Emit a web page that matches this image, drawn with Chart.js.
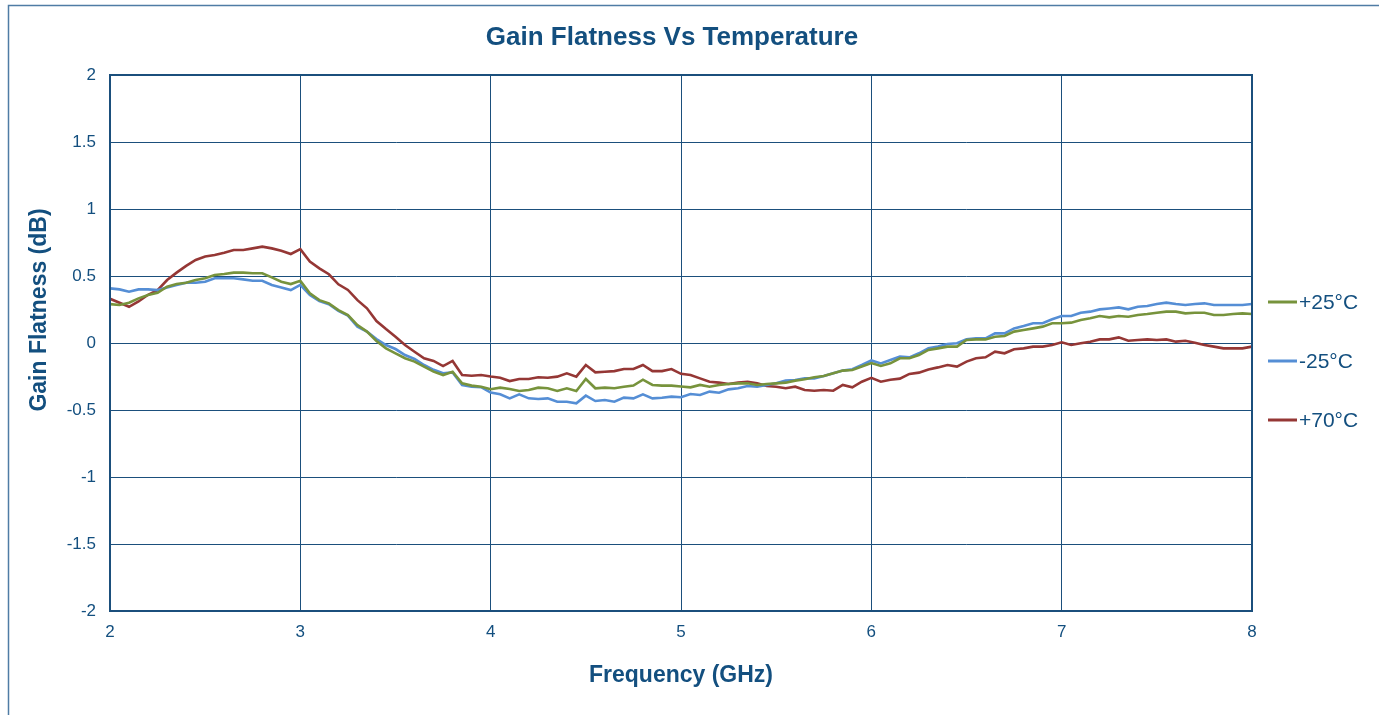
<!DOCTYPE html>
<html>
<head>
<meta charset="utf-8">
<title>Gain Flatness Vs Temperature</title>
<script src="https://cdn.jsdelivr.net/npm/chart.js@4"></script>
<style>
  html, body { margin: 0; padding: 0; background: #fff; overflow: hidden; }
  canvas { display: block; }
</style>
</head>
<body>
<canvas id="chart_gain" width="1379" height="715"></canvas>
<script>
// frequency points, GHz
const freqs = [
  2.00, 2.05, 2.10, 2.15, 2.20, 2.25, 2.30, 2.35, 2.40, 2.45, 2.50, 2.55, 2.60, 2.65, 2.70, 2.75, 2.80, 2.85, 2.90, 2.95,
  3.00, 3.05, 3.10, 3.15, 3.20, 3.25, 3.30, 3.35, 3.40, 3.45, 3.50, 3.55, 3.60, 3.65, 3.70, 3.75, 3.80, 3.85, 3.90, 3.95,
  4.00, 4.05, 4.10, 4.15, 4.20, 4.25, 4.30, 4.35, 4.40, 4.45, 4.50, 4.55, 4.60, 4.65, 4.70, 4.75, 4.80, 4.85, 4.90, 4.95,
  5.00, 5.05, 5.10, 5.15, 5.20, 5.25, 5.30, 5.35, 5.40, 5.45, 5.50, 5.55, 5.60, 5.65, 5.70, 5.75, 5.80, 5.85, 5.90, 5.95,
  6.00, 6.05, 6.10, 6.15, 6.20, 6.25, 6.30, 6.35, 6.40, 6.45, 6.50, 6.55, 6.60, 6.65, 6.70, 6.75, 6.80, 6.85, 6.90, 6.95,
  7.00, 7.05, 7.10, 7.15, 7.20, 7.25, 7.30, 7.35, 7.40, 7.45, 7.50, 7.55, 7.60, 7.65, 7.70, 7.75, 7.80, 7.85, 7.90, 7.95,
  8.00
];

// gain flatness, dB
const gainP25 = [
  0.29, 0.284, 0.30, 0.333, 0.358, 0.375, 0.42, 0.44, 0.45, 0.47, 0.483, 0.507, 0.515, 0.525, 0.525, 0.52, 0.52, 0.49, 0.457, 0.44,
  0.465, 0.371, 0.32, 0.296, 0.246, 0.209, 0.134, 0.085, 0.015, -0.04, -0.077, -0.114, -0.139, -0.177, -0.214, -0.239, -0.214, -0.301, -0.318, -0.326,
  -0.345, -0.333, -0.343, -0.358, -0.351, -0.333, -0.338, -0.358, -0.338, -0.358, -0.269, -0.338, -0.333, -0.338, -0.326, -0.318, -0.274, -0.313, -0.318, -0.318,
  -0.325, -0.331, -0.313, -0.326, -0.313, -0.306, -0.301, -0.301, -0.313, -0.306, -0.301, -0.296, -0.281, -0.271, -0.256, -0.246, -0.226, -0.206, -0.201, -0.176,
  -0.15, -0.171, -0.152, -0.114, -0.114, -0.09, -0.052, -0.04, -0.027, -0.027, 0.022, 0.027, 0.027, 0.047, 0.052, 0.085, 0.097, 0.109, 0.122, 0.147,
  0.147, 0.152, 0.172, 0.184, 0.201, 0.191, 0.201, 0.196, 0.209, 0.216, 0.226, 0.234, 0.234, 0.221, 0.226, 0.226, 0.209, 0.209, 0.216, 0.221,
  0.216
];

const gainM25 = [
  0.408, 0.40, 0.383, 0.40, 0.40, 0.395, 0.415, 0.433, 0.45, 0.45, 0.457, 0.483, 0.483, 0.483, 0.475, 0.465, 0.465, 0.433, 0.415, 0.395,
  0.433, 0.358, 0.313, 0.289, 0.239, 0.204, 0.122, 0.085, 0.03, -0.015, -0.045, -0.09, -0.119, -0.164, -0.2, -0.226, -0.22, -0.313, -0.326, -0.33,
  -0.37, -0.383, -0.413, -0.383, -0.413, -0.418, -0.413, -0.438, -0.438, -0.45, -0.393, -0.433, -0.425, -0.438, -0.408, -0.413, -0.383, -0.413, -0.408, -0.40,
  -0.405, -0.381, -0.388, -0.363, -0.371, -0.346, -0.338, -0.321, -0.326, -0.313, -0.301, -0.281, -0.276, -0.264, -0.264, -0.246, -0.226, -0.206, -0.196, -0.164,
  -0.13, -0.152, -0.127, -0.102, -0.107, -0.077, -0.04, -0.027, -0.007, -0.002, 0.027, 0.035, 0.035, 0.072, 0.072, 0.109, 0.127, 0.147, 0.147, 0.177,
  0.201, 0.201, 0.226, 0.234, 0.251, 0.258, 0.266, 0.251, 0.271, 0.276, 0.291, 0.301, 0.291, 0.284, 0.291, 0.296, 0.284, 0.284, 0.284, 0.284,
  0.291
];

const gainP70 = [
  0.33, 0.30, 0.27, 0.31, 0.36, 0.395, 0.47, 0.525, 0.575, 0.62, 0.645, 0.657, 0.674, 0.694, 0.694, 0.706, 0.719, 0.706, 0.689, 0.664,
  0.70, 0.607, 0.557, 0.513, 0.438, 0.396, 0.32, 0.259, 0.164, 0.104, 0.047, -0.015, -0.065, -0.114, -0.134, -0.172, -0.134, -0.239, -0.244, -0.239,
  -0.25, -0.259, -0.284, -0.269, -0.269, -0.256, -0.259, -0.251, -0.226, -0.251, -0.164, -0.219, -0.214, -0.21, -0.194, -0.194, -0.164, -0.21, -0.21, -0.194,
  -0.23, -0.239, -0.264, -0.289, -0.296, -0.306, -0.296, -0.289, -0.301, -0.321, -0.326, -0.338, -0.326, -0.351, -0.356, -0.351, -0.356, -0.313, -0.331, -0.289,
  -0.26, -0.289, -0.274, -0.266, -0.231, -0.221, -0.197, -0.182, -0.164, -0.176, -0.139, -0.114, -0.107, -0.065, -0.077, -0.047, -0.04, -0.027, -0.027, -0.015,
  0.005, -0.015, -0.002, 0.01, 0.027, 0.027, 0.042, 0.017, 0.022, 0.027, 0.022, 0.027, 0.01, 0.017, 0.002, -0.015, -0.027, -0.04, -0.04, -0.04,
  -0.027
];

const seriesLabels = ['+25°C', '-25°C', '+70°C'];
const seriesColors = ['#77933C', '#558ED5', '#953735'];
const xTicks = [2, 3, 4, 5, 6, 7, 8];
const yTicks = [-2, -1.5, -1, -0.5, 0, 0.5, 1, 1.5, 2];

const textColor = '#134F7F';
const gridColor = '#1B4F7C';
const fontFamily = "'Liberation Sans', Arial, sans-serif";

function toPoints(values) {
    return freqs.map((f, i) => ({ x: f, y: values[i] }));
}

// title, rotated y title, legend and outer frame
const decorPlugin = {
    id: 'decor',
    beforeDraw(chart) {
        const ctx = chart.ctx;
        ctx.save();
        ctx.fillStyle = '#fff';
        ctx.fillRect(0, 0, chart.width, chart.height);
        ctx.strokeStyle = '#4F7CA5';
        ctx.lineWidth = 1.5;
        ctx.strokeRect(8.5, 5.5, chart.width + 20, chart.height + 20);
        ctx.restore();
    },
    afterDraw(chart) {
        const ctx = chart.ctx;
        const area = chart.chartArea;
        ctx.save();
        // plot frame, heavier than the grid
        ctx.strokeStyle = gridColor;
        ctx.lineWidth = 2;
        ctx.strokeRect(area.left, area.top, area.right - area.left, area.bottom - area.top);

        ctx.fillStyle = textColor;
        ctx.textAlign = 'center';
        ctx.textBaseline = 'middle';
        ctx.font = `bold 26px ${fontFamily}`;
        ctx.fillText('Gain Flatness Vs Temperature', 672, 38);

        ctx.save();
        ctx.translate(40, 310);
        ctx.rotate(-Math.PI / 2);
        ctx.font = `bold 23px ${fontFamily}`;
        ctx.fillText('Gain Flatness (dB)', 0, 0);
        ctx.restore();

        const legendY = [302, 361, 420];
        ctx.font = `21px ${fontFamily}`;
        ctx.textAlign = 'left';
        seriesLabels.forEach((label, i) => {
            ctx.strokeStyle = seriesColors[i];
            ctx.lineWidth = 3;
            ctx.beginPath();
            ctx.moveTo(1268, legendY[i]);
            ctx.lineTo(1297, legendY[i]);
            ctx.stroke();
            ctx.fillStyle = textColor;
            ctx.fillText(label, 1299, legendY[i] + 1);
        });
        ctx.restore();
    }
};

const ctx = document.getElementById('chart_gain').getContext('2d');
const chart = new Chart(ctx, {
    type: 'line',
    data: {
        datasets: [gainP25, gainM25, gainP70].map((vals, i) => ({
            label: seriesLabels[i],
            data: toPoints(vals),
            borderColor: seriesColors[i],
            backgroundColor: seriesColors[i],
            borderWidth: 2.6,
            pointRadius: 0,
            tension: 0,
            fill: false
        }))
    },
    options: {
        responsive: false,
        animation: false,
        events: [],
        layout: {
            padding: { top: 75, right: 127, left: 0, bottom: 0 }
        },
        plugins: {
            legend: { display: false },
            title: { display: false },
            tooltip: { enabled: false }
        },
        scales: {
            x: {
                type: 'linear',
                min: 2,
                max: 8,
                afterFit: s => { s.height = 104; },
                afterBuildTicks: s => { s.ticks = xTicks.map(v => ({ value: v })); },
                grid: {
                    color: gridColor,
                    lineWidth: 1,
                    drawTicks: false
                },
                border: { color: gridColor, width: 2 },
                ticks: {
                    color: textColor,
                    font: { size: 17, family: fontFamily },
                    padding: 11,
                    maxRotation: 0,
                    callback: v => String(v)
                },
                title: {
                    display: true,
                    text: 'Frequency (GHz)',
                    color: textColor,
                    font: { size: 23, weight: 'bold', family: fontFamily },
                    padding: { top: 0, bottom: 26 }
                }
            },
            y: {
                min: -2,
                max: 2,
                afterFit: s => { s.width = 110; },
                afterBuildTicks: s => { s.ticks = yTicks.map(v => ({ value: v })); },
                grid: {
                    color: gridColor,
                    lineWidth: 1,
                    drawTicks: false
                },
                border: { color: gridColor, width: 2 },
                ticks: {
                    color: textColor,
                    font: { size: 17, family: fontFamily },
                    padding: 14,
                    callback: v => String(v)
                }
            }
        }
    },
    plugins: [decorPlugin]
});
</script>
</body>
</html>
